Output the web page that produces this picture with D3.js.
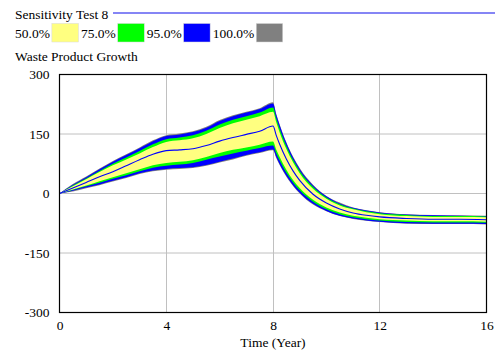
<!DOCTYPE html>
<html>
<head>
<meta charset="utf-8">
<script src="https://cdn.jsdelivr.net/npm/d3@7"></script>
<style>
  body { margin: 0; background: #fff; }
  svg { display: block; }
  text { font-family: "Liberation Serif", "Times New Roman", serif; fill: #000; }
</style>
</head>
<body>
<svg id="chart" width="495" height="352"></svg>
<script>
// Simulation time (years)
const time = [0, 0.5, 1, 1.5, 2, 2.5, 3, 3.5, 4, 4.5, 5, 5.5, 6, 6.5, 7, 7.5, 8,
              8.125, 8.25, 8.5, 8.75, 9, 9.5, 10, 10.5, 11, 11.5, 12, 13, 14, 15, 16];

// Sensitivity envelopes for Waste Product Growth
const maxRun = [0, 24, 43, 63, 82, 99, 116, 134, 147, 151, 157, 168, 185, 197, 206, 215, 230,
                200, 174, 129, 93, 64, 22, -6, -23, -35, -42, -47, -52, -54, -55, -56];
const hi95 = [0, 22, 41, 61, 80, 97, 114, 132, 145, 149, 155, 166, 183, 195, 204, 213, 227,
              198, 172, 127, 91, 62, 20, -7, -25, -36, -43, -48, -53, -55, -56, -57];
const hi75 = [0, 20, 38, 57, 75, 91, 107, 124, 137, 141, 147, 158, 174, 186, 195, 204, 217,
              189, 163, 120, 85, 57, 17, -10, -27, -38, -45, -50, -54, -57, -57, -58];
const hi50 = [0, 18, 36, 54, 71, 86, 101, 117, 130, 134, 139, 150, 165, 177, 186, 195, 206,
              179, 154, 112, 79, 51, 12, -13, -30, -40, -47, -52, -57, -59, -59, -60];
const baseRun = [0, 14, 28, 42, 55, 70, 85, 99, 108, 110, 113, 121, 132, 141, 149, 157, 170,
                 146, 124, 87, 57, 33, -2, -24, -39, -49, -55, -59, -63, -65, -65, -66];
const lo50 = [0, 10, 20, 31, 41, 51, 61, 71, 77, 80, 84, 92, 102, 110, 116, 123, 131,
              110, 92, 60, 34, 14, -16, -35, -48, -56, -61, -65, -68, -70, -70, -71];
const lo75 = [0, 9, 18, 27, 37, 46, 56, 65, 70, 73, 77, 85, 93, 101, 108, 115, 121,
              101, 83, 52, 28, 8, -21, -40, -52, -60, -65, -68, -72, -73, -73, -74];
const lo95 = [0, 7, 15, 23, 32, 41, 51, 58, 62, 64, 66, 72, 80, 88, 97, 104, 111,
              92, 74, 45, 21, 2, -26, -44, -56, -63, -68, -71, -75, -76, -76, -77];
const minRun = [0, 5, 13, 21, 30, 39, 49, 56, 60, 62, 64, 70, 78, 86, 95, 102, 109,
                89, 72, 42, 19, 0, -28, -45, -57, -64, -69, -72, -76, -77, -77, -78];

// Legend and axis labels
const legendLabels = ["50.0%", "75.0%", "95.0%", "100.0%"];
const legendColors = ["#ffff80", "#00ff00", "#0000ff", "#808080"];
const xTicks = [0, 4, 8, 12, 16];
const yTicks = [-300, -150, 0, 150, 300];
const title = "Sensitivity Test 8";
const varName = "Waste Product Growth";
const xTitle = "Time (Year)";

const svg = d3.select("#chart");
const fontSize = 13.5;
const serif = '"Liberation Serif", "Times New Roman", serif';

const x = d3.scaleLinear().domain([0, 16]).range([59.5, 486.5]);
const y = d3.scaleLinear().domain([-300, 300]).range([312.5, 74.5]);
const crisp = v => Math.round(v - 0.5) + 0.5;

// Header: run name with its line, band legend, variable name
svg.append("text").attr("x", 15).attr("y", 19).style("font-size", fontSize + "px").text(title);
svg.append("line").attr("x1", 113).attr("x2", 495).attr("y1", 13).attr("y2", 13)
  .attr("stroke", "#5c5cf2").attr("stroke-width", 1.4);

let lx = 15;
legendLabels.forEach((lab, i) => {
  const t = svg.append("text").attr("x", lx).attr("y", 38).style("font-size", fontSize + "px").text(lab);
  const w = t.node().getComputedTextLength();
  svg.append("rect").attr("x", lx + w + 2).attr("y", 23.5).attr("width", 26.5).attr("height", 18.5)
    .attr("fill", legendColors[i]).attr("stroke", "#d8d8d8").attr("stroke-width", 0.5);
  lx = lx + w + 2 + 26.5 + 2.5;
});

svg.append("text").attr("x", 15).attr("y", 61).style("font-size", fontSize + "px").text(varName);

// Grid
const grid = svg.append("g");
grid.selectAll("line.v").data(xTicks.slice(1, -1)).join("line")
  .attr("x1", d => crisp(x(d))).attr("x2", d => crisp(x(d)))
  .attr("y1", y(300)).attr("y2", y(-300)).attr("stroke", "#c0c0c0");
grid.selectAll("line.h").data(yTicks.slice(1, -1)).join("line")
  .attr("x1", x(0)).attr("x2", x(16))
  .attr("y1", d => y(d)).attr("y2", d => y(d)).attr("stroke", "#c0c0c0");

// Bands, widest first
const idx = d3.range(time.length);
const band = (lo, hi) => d3.area()
  .x(i => x(time[i])).y0(i => y(lo[i])).y1(i => y(hi[i]))
  .curve(d3.curveMonotoneX)(idx);

const plot = svg.append("g");
plot.append("path").attr("d", band(minRun, maxRun)).attr("fill", legendColors[3]);
plot.append("path").attr("d", band(lo95, hi95)).attr("fill", legendColors[2]);
plot.append("path").attr("d", band(lo75, hi75)).attr("fill", legendColors[1]);
plot.append("path").attr("d", band(lo50, hi50)).attr("fill", legendColors[0]);

const line = d3.line().x(i => x(time[i])).y(i => y(baseRun[i])).curve(d3.curveMonotoneX);
plot.append("path").attr("d", line(idx)).attr("fill", "none").attr("stroke", "#0000ff").attr("stroke-width", 1.1);

// Frame
svg.append("rect").attr("x", x(0)).attr("y", y(300))
  .attr("width", x(16) - x(0)).attr("height", y(-300) - y(300))
  .attr("fill", "none").attr("stroke", "#000").attr("stroke-width", 1.2);

// Axes (plain hyphen for negatives)
const yAxis = svg.append("g").attr("transform", `translate(${x(0)},0)`)
  .call(d3.axisLeft(y).tickValues(yTicks).tickSize(0).tickPadding(10).tickFormat(d => String(d)));
const xAxis = svg.append("g").attr("transform", `translate(0,${y(-300)})`)
  .call(d3.axisBottom(x).tickValues(xTicks).tickSize(0).tickPadding(8).tickFormat(d => String(d)));
[yAxis, xAxis].forEach(a => {
  a.attr("font-family", serif).attr("font-size", fontSize);
  a.select(".domain").remove();
  a.selectAll("text").style("font-size", fontSize + "px").style("font-family", serif).attr("fill", "#000");
});

svg.append("text").attr("x", (x(0) + x(16)) / 2).attr("y", 347).attr("text-anchor", "middle")
  .style("font-size", fontSize + "px").text(xTitle);
</script>
</body>
</html>
